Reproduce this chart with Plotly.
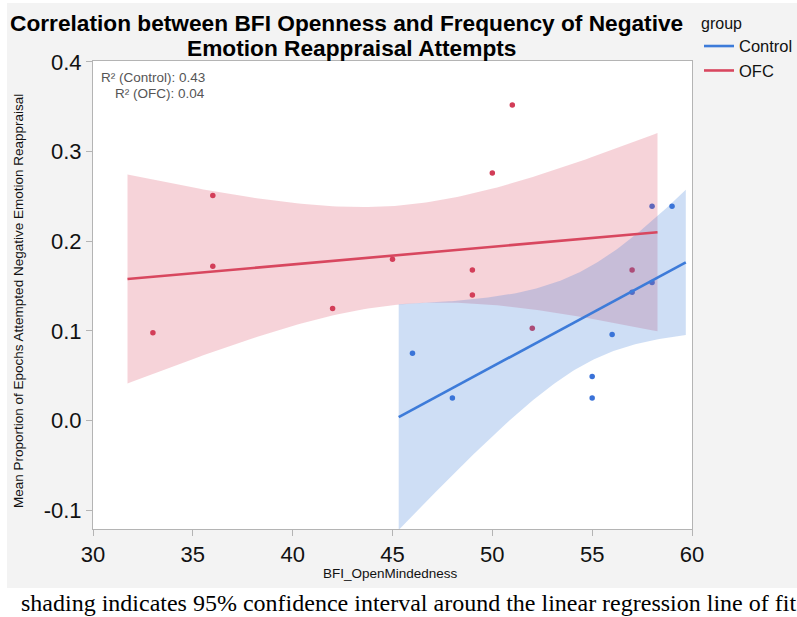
import numpy as np
import plotly.graph_objects as go

# ---------------- data ----------------
groups = ["Control", "OFC"]
control_x = [46, 48, 55, 55, 56, 57, 58, 58, 59]
control_y = [0.075, 0.025, 0.049, 0.025, 0.096, 0.143, 0.154, 0.239, 0.239]
ofc_x = [33, 36, 36, 42, 45, 49, 49, 50, 51, 52, 57]
ofc_y = [0.098, 0.251, 0.172, 0.125, 0.180, 0.168, 0.140, 0.276, 0.352, 0.103, 0.168]
r2_labels = ["R² (Control): 0.43", "R² (OFC): 0.04"]
x_ticks = [30, 35, 40, 45, 50, 55, 60]
y_ticks = [-0.1, 0.0, 0.1, 0.2, 0.3, 0.4]
y_tick_text = ["-0.1", "0.0", "0.1", "0.2", "0.3", "0.4"]
title_lines = ["Correlation between BFI Openness and Frequency of Negative",
               "Emotion Reappraisal Attempts"]
x_title = "BFI_OpenMindedness"
y_title = "Mean Proportion of Epochs Attempted Negative Emotion Reappraisal"
caption = "shading indicates 95% confidence interval around the linear regression line of fit"

# t critical values (two-sided 95%) by degrees of freedom
T95 = {7: 2.3646, 9: 2.2622}

# ---------------- styles ----------------
line_col = {"Control": "#3d7bd9", "OFC": "#d8475f"}
mark_col = {"Control": "#3a72d8", "OFC": "#d23c57"}
band_col = {"Control": "rgba(61,123,217,0.25)", "OFC": "rgba(216,71,95,0.24)"}
EXT = 0.053
SANS = "Liberation Sans, Arial"


def fit_band(x, y):
    x = np.asarray(x, float)
    y = np.asarray(y, float)
    n = len(x)
    b1, b0 = np.polyfit(x, y, 1)
    resid = y - (b0 + b1 * x)
    s = np.sqrt(np.sum(resid ** 2) / (n - 2))
    xm = x.mean()
    sxx = np.sum((x - xm) ** 2)
    rng = x.max() - x.min()
    xs = np.linspace(x.min() - EXT * rng, x.max() + EXT * rng, 120)
    yh = b0 + b1 * xs
    se = s * np.sqrt(1.0 / n + (xs - xm) ** 2 / sxx)
    t = T95[n - 2]
    return xs, yh, yh - t * se, yh + t * se


data = {"Control": (control_x, control_y), "OFC": (ofc_x, ofc_y)}

fig = go.Figure()

# points (drawn under the bands)
for g in groups:
    gx, gy = data[g]
    fig.add_trace(go.Scatter(x=gx, y=gy, mode="markers",
                             marker=dict(size=5.5, color=mark_col[g]),
                             showlegend=False, hoverinfo="x+y"))

# bands
fits = {}
for g in ["OFC", "Control"]:
    gx, gy = data[g]
    xs, yh, lo, hi = fit_band(gx, gy)
    fits[g] = (xs, yh)
    fig.add_trace(go.Scatter(x=np.concatenate([xs, xs[::-1]]),
                             y=np.concatenate([hi, lo[::-1]]),
                             fill="toself", fillcolor=band_col[g],
                             line=dict(width=0), mode="lines",
                             showlegend=False, hoverinfo="skip"))

# fit lines
for g in groups:
    xs, yh = fits[g]
    fig.add_trace(go.Scatter(x=xs, y=yh, mode="lines", name=g,
                             line=dict(color=line_col[g], width=2.6)))

L, R, T, B = 93, 105, 61, 88
W, H = 797, 617
pw, ph = W - L - R, H - T - B


def px(xp):
    return (xp - L) / pw


def py(yp):
    return (H - B - yp) / ph


axis_common = dict(showline=True, linecolor="#b4b4b4", linewidth=1, mirror=True,
                   ticks="outside", ticklen=6, tickcolor="#b4b4b4",
                   showgrid=False, zeroline=False,
                   tickfont=dict(family=SANS, size=22, color="#111"))

annotations = [
    dict(text="<b>%s</b>" % title_lines[0], xref="paper", yref="paper", x=px(346), y=py(23),
         xanchor="center", yanchor="middle", showarrow=False,
         font=dict(family=SANS, size=22.7, color="#000")),
    dict(text="<b>%s</b>" % title_lines[1], xref="paper", yref="paper", x=px(351), y=py(48),
         xanchor="center", yanchor="middle", showarrow=False,
         font=dict(family=SANS, size=22.7, color="#000")),
    dict(text=r2_labels[0], xref="paper", yref="paper", x=px(207), y=py(77),
         xanchor="right", yanchor="middle", showarrow=False,
         font=dict(family=SANS, size=13.5, color="#555")),
    dict(text=r2_labels[1], xref="paper", yref="paper", x=px(207), y=py(94),
         xanchor="right", yanchor="middle", showarrow=False,
         font=dict(family=SANS, size=13.5, color="#555")),
    dict(text=x_title, xref="paper", yref="paper", x=px(390), y=py(573),
         xanchor="center", yanchor="middle", showarrow=False,
         font=dict(family=SANS, size=13.5, color="#111")),
    dict(text=y_title, xref="paper", yref="paper", x=px(18), y=py(301),
         xanchor="center", yanchor="middle", showarrow=False, textangle=-90,
         font=dict(family=SANS, size=13.5, color="#111")),
    dict(text=caption, xref="paper", yref="paper", x=px(19), y=py(603),
         xanchor="left", yanchor="middle", showarrow=False,
         font=dict(family="Liberation Serif, Times New Roman", size=24, color="#000")),
]

fig.update_layout(
    width=W, height=H,
    margin=dict(l=L, r=R, t=T, b=B, autoexpand=False),
    paper_bgcolor="white", plot_bgcolor="white",
    font=dict(family=SANS),
    xaxis=dict(range=[30, 60], tickvals=x_ticks, **axis_common),
    yaxis=dict(range=[-0.121, 0.401], tickvals=y_ticks, ticktext=y_tick_text, **axis_common),
    legend=dict(x=px(699), y=py(8), xanchor="left", yanchor="top",
                title=dict(text="group", font=dict(size=16, color="#111")),
                font=dict(size=16.5, color="#111"), bgcolor="rgba(0,0,0,0)",
                tracegroupgap=0, itemwidth=30),
    shapes=[
        dict(type="rect", xref="paper", yref="paper", x0=px(7), x1=px(W), y0=py(588), y1=py(3),
             fillcolor="#f3f3f3", line=dict(width=0), layer="below"),
        dict(type="rect", xref="paper", yref="paper", x0=0, x1=1, y0=0, y1=1,
             fillcolor="white", line=dict(width=0), layer="below"),
    ],
    annotations=annotations,
)

fig.write_html("out.html")
